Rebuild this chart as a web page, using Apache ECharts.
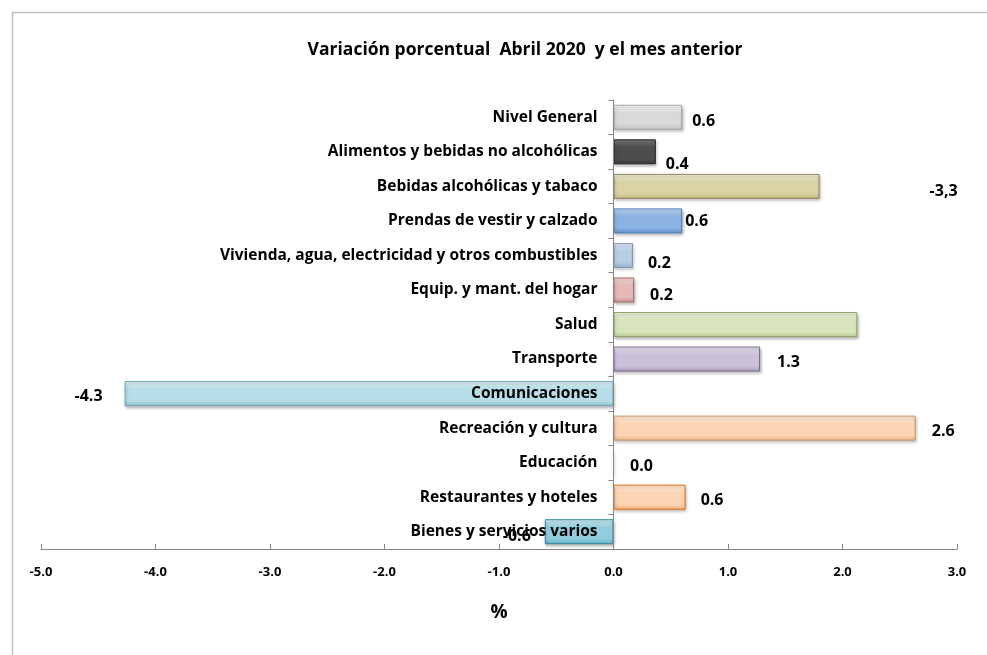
<!DOCTYPE html>
<html>
<head>
<meta charset="utf-8">
<script src="https://cdn.jsdelivr.net/npm/echarts@6/dist/echarts.min.js"></script>
<style>html,body{margin:0;padding:0;background:#fff}#c{width:987px;height:655px}</style>
</head>
<body>
<div id="c"></div>
<script>
const categories = ["Nivel General","Alimentos y bebidas no alcohólicas","Bebidas alcohólicas y tabaco","Prendas de vestir y calzado","Vivienda, agua, electricidad y otros combustibles","Equip. y mant. del hogar","Salud","Transporte","Comunicaciones","Recreación y cultura","Educación","Restaurantes y hoteles","Bienes y servicios varios"];
const values = [0.6, 0.37, 1.8, 0.6, 0.17, 0.18, 2.13, 1.28, -4.27, 2.64, 0.0, 0.63, -0.6];
const labelTexts = ["0.6","0.4","-3,3","0.6","0.2","0.2","","1.3","-4.3","2.6","0.0","0.6","-0.6"];
const xTicks = {min: -5, max: 3, interval: 1};

const fills = [
  ["#ffffff","#d9d9d9","#bfbfbf"],
  ["#7f7f7f","#4d4d4d","#3a3a3a"],
  ["#f3f0d6","#d9d3a6","#bfb67e"],
  ["#c6dbf5","#8db3e2","#5f8fcb"],
  ["#e3ecf7","#b9cde5","#95b0d3"],
  ["#f5dede","#e6b9b8","#cd9290"],
  ["#eef5e0","#d7e4bd","#b8cc92"],
  ["#ece7f3","#ccc1da","#a99bbd"],
  ["#e2f3f7","#b7dee8","#8cc3d3"],
  ["#fff0e2","#fcd5b5","#e8b68c"],
  ["#ffffff","#ffffff","#ffffff"],
  ["#fff0e2","#fcd5b5","#f5b582"],
  ["#d6eff5","#93cddd","#5fb2c8"]
];
const borders = ["#a6a6a6","#262626","#8c8560","#4f7fbf","#7f97b8","#a86a68","#8ea563","#7d6b95","#6fa8b8","#c99566","#ffffff","#e46c0a","#31859c"];
const offsets = [[5,4],[5,13],[105,5],[-2,1],[10,8],[11,5],[0,0],[12,3],[-17,3],[11,3],[11,4],[10,3],[-9,5]];

const FONT = '"Open Sans", sans-serif';
const GRID = {left: 41, right: 30, top: 100, bottom: 106};
const plotW = 987 - GRID.left - GRID.right;
const zeroShift = (0 - xTicks.min) / (xTicks.max - xTicks.min) * plotW;

const data = values.map((v,i) => ({
  value: v,
  itemStyle: {
    color: new echarts.graphic.LinearGradient(0,0,0,1,[
      {offset:0,color:fills[i][0]},
      {offset:0.3,color:fills[i][1]},
      {offset:0.78,color:fills[i][1]},
      {offset:1,color:fills[i][2]}
    ]),
    borderColor: borders[i],
    borderWidth: 1,
    shadowColor: 'rgba(0,0,0,0.28)',
    shadowBlur: 3,
    shadowOffsetX: 1,
    shadowOffsetY: 2
  },
  label: {
    show: labelTexts[i] !== "",
    position: v < 0 ? 'left' : 'right',
    offset: offsets[i],
    formatter: labelTexts[i]
  }
}));

const chart = echarts.init(document.getElementById('c'));
chart.setOption({
  animation: false,
  backgroundColor: '#fff',
  textStyle: {fontFamily: FONT},
  title: {
    text: 'Variación porcentual  Abril 2020  y el mes anterior',
    left: 520, top: 36, textAlign: 'center',
    textStyle: {fontFamily: FONT, fontWeight: 'bold', fontSize: 17.5, color: '#000'}
  },
  graphic: [{
    type: 'rect', left: 10, top: 10, shape: {width: 1200, height: 900},
    style: {fill: 'none', stroke: '#bfbfbf', lineWidth: 1.5}, silent: true, z: -1
  }],
  grid: Object.assign({containLabel: false, outerBoundsMode: 'none'}, GRID),
  xAxis: {
    type: 'value', min: xTicks.min, max: xTicks.max, interval: xTicks.interval,
    splitLine: {show: false},
    axisLine: {show: true, lineStyle: {color: '#868686', width: 1}},
    axisTick: {show: true, inside: true, length: 5, lineStyle: {color: '#868686'}},
    axisLabel: {formatter: v => v.toFixed(1), color: '#000', fontWeight: 'bold', fontSize: 13, fontFamily: FONT, margin: 17},
    name: '%', nameLocation: 'middle', nameGap: 54,
    nameTextStyle: {fontWeight: 'bold', fontSize: 19, color: '#000', fontFamily: FONT}
  },
  yAxis: {
    type: 'category', data: categories, inverse: true, z: 10,
    offset: -zeroShift,
    axisLine: {show: true, onZero: false, lineStyle: {color: '#868686', width: 1}},
    axisTick: {show: true, length: 5, lineStyle: {color: '#868686'}},
    axisLabel: {color: '#000', fontWeight: 'bold', fontSize: 15.5, fontFamily: FONT, margin: 16}
  },
  series: [{
    type: 'bar', data: data, barWidth: 25,
    label: {color: '#000', fontWeight: 'bold', fontSize: 16, fontFamily: FONT}
  }]
});
</script>
</body>
</html>
